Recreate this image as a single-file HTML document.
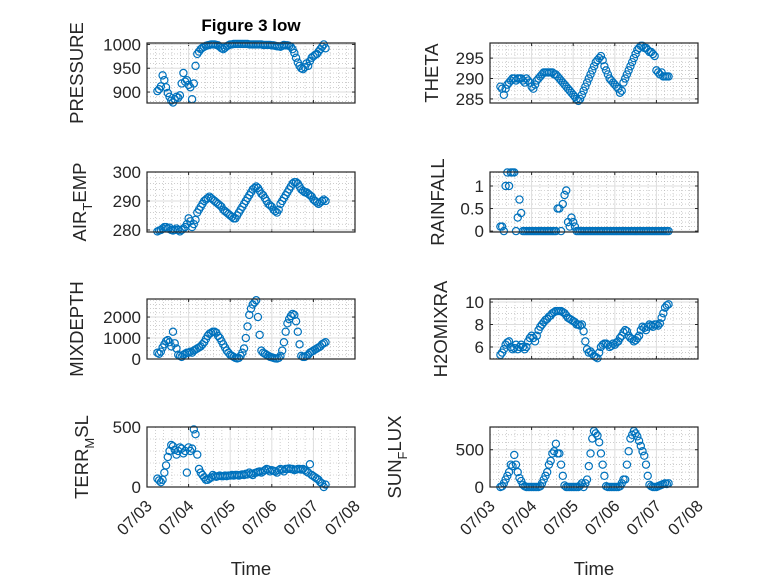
<!DOCTYPE html>
<html><head><meta charset="utf-8"><style>
html,body{margin:0;padding:0;background:#fff;}
svg{display:block;font-family:"Liberation Sans",sans-serif;}
</style></head><body>
<svg id="fig" width="778" height="583" viewBox="0 0 778 583" xmlns="http://www.w3.org/2000/svg">
<rect x="0" y="0" width="778" height="583" fill="#fff"/>
<text x="251" y="31" text-anchor="middle" font-size="17" font-weight="bold" fill="#000">Figure 3 low</text>
</svg>
<script>
const tickLabels = ["07/03","07/04","07/05","07/06","07/07","07/08"];
const pressure = [902,906,912,935,925,910, 898,890,882,878,885,890, 888,893,918,940,922,925, 915,910,885,918,955,980, 985,990,993,995,997,998, 999,1000,1000,1000,999,998, 995,992,990,993,996,998, 1000,1000,1001,1001,1001,1001, 1001,1001,1001,1001,1001,1000, 1000,1000,1000,1000,1000,1000, 1000,999,999,999,999,999, 998,998,997,996,996,995, 997,999,998,998,997,995, 990,982,972,962,955,950, 948,952,960,955,965,972, 975,978,980,985,990,995, 1000,992];
const theta = [288,287.5,286,287.5,288.5,289, 289.5,290,290,289.5,290,290, 290,289.5,289,290,289.5,289, 288,287.5,288.5,289.5,290,290.5, 291,291.5,291.5,291.5,291.5,291.5, 291.5,291,291,290.5,290,289.5, 289,288.5,288,287.5,287,286.5, 286,285.5,285,284.5,285,286, 287,288,289,290,291,292, 293,294,294.5,295,295.5,294.5, 293,292,291,290,289.5,289, 288.5,288,287.5,286.5,287,289, 290,291,292,293,294,295, 296,297,297.5,298,298,297.5, 297.5,297,296.5,296.5,296,295.5, 292,291.5,291,291.5,290.5,290.5, 290.5,290.5];
const airTemp = [279.5,279.8,280,280.5,281,281, 280.5,280.8,280,279.8,280,280.5, 280,279.5,280,280.5,281,282, 284,283,281,282,283.5,286, 287,288,289,290,290.5,291, 291.5,291,290.5,290,289.5,289, 288.5,288,287,286.5,286,285.5, 285,284.5,284,284,285,286, 287,288,289,290,291,292, 293,294,294.5,295,294.5,293.5, 292.5,292,291,290,289,288.5, 288,287,286.5,286,287,289, 290,291,292,293,294,295, 296,296.5,296.5,296,295,294, 293.5,293,293,292.5,292,291.5, 290.5,290,289.5,289,289.5,290, 290.5,290];
const rainfall = [0.1,0.1,0,1.0,1.3,1.0, 1.3,1.3,1.3,0,0.3,0.7, 0.4,0,0,0,0,0, 0,0,0,0,0,0, 0,0,0,0,0,0, 0,0,0,0.5,0.5,0, 0.6,0.8,0.9,0.2,0.1,0.3, 0.2,0.1,0,0,0,0, 0,0,0,0,0,0, 0,0,0,0,0,0, 0,0,0,0,0,0, 0,0,0,0,0,0, 0,0,0,0,0,0, 0,0,0,0,0,0, 0,0,0,0,0,0, 0,0,0,0,0,0, 0,0];
const mixDepth = [300,250,350,550,700,850, 900,800,600,1300,750,500, 200,150,100,200,250,300, 300,350,300,400,450,500, 550,600,700,800,950,1100, 1200,1250,1300,1300,1250,1100, 1000,850,700,550,400,300, 200,150,100,50,30,50, 150,300,500,1000,1550,2100, 2400,2600,2700,2800,2000,1150, 400,300,250,200,150,100, 80,50,30,20,50,150, 400,800,1300,1700,1900,2050, 2150,2100,1800,1300,700,150, 100,100,150,200,300,350, 400,450,500,550,600,700, 750,800];
const h2oMix = [5.3,5.5,5.8,6.2,6.4,6.5, 6.0,5.8,5.9,6.2,5.8,6.0, 6.2,6.0,5.8,6.0,6.5,6.8, 7.0,6.8,6.5,7.0,7.5,7.8, 8.0,8.2,8.4,8.5,8.7,8.8, 9.0,9.1,9.2,9.2,9.2,9.2, 9.1,9.0,8.8,8.6,8.5,8.4, 8.3,8.2,8.0,8.0,7.9,8.0, 7.4,6.5,5.8,5.5,5.6,5.4, 5.2,5.1,5.0,5.5,6.0,6.2, 6.3,6.3,6.2,6.0,6.1,6.3, 6.2,6.4,6.5,6.8,7.0,7.3, 7.5,7.4,7.0,6.8,6.7,6.5, 6.6,6.8,7.0,7.5,7.8,7.7, 7.5,7.8,8.0,7.9,7.8,8.0, 8.0,7.9,8.1,8.6,9.0,9.5, 9.7,9.8];
const terrMsl = [70,55,40,60,120,180, 250,300,350,340,310,270, 300,330,320,280,300,120, 330,300,320,480,440,270, 150,120,100,80,60,60, 70,80,100,90,85,90, 95,90,90,95,90,95, 95,100,95,100,100,95, 100,105,100,110,105,120, 110,100,115,120,125,130, 120,130,140,150,145,130, 140,135,130,120,140,150, 145,130,150,150,155,150, 150,140,145,150,150,145, 150,140,130,120,190,100, 90,80,70,60,40,30, 0,20];
const sunFlux = [0,10,50,100,150,200, 300,280,430,300,200,120, 80,30,10,0,0,0, 0,0,0,0,0,10, 50,100,150,200,300,350, 450,480,580,450,450,300, 150,20,0,0,0,0, 0,0,0,0,20,50, 0,50,100,280,450,650, 750,720,690,600,450,300, 150,10,0,0,0,0, 0,0,0,10,50,100, 100,300,480,650,700,750, 720,680,620,550,480,420, 300,150,30,10,0,0, 0,10,20,30,40,50, 40,50];
const startDay = 0.25;
const stepDay = 1/24;

const NS = "http://www.w3.org/2000/svg";
const svg = document.getElementById("fig");
function mk(tag, attrs, parent){
  const e = document.createElementNS(NS, tag);
  for (const k in attrs) e.setAttribute(k, attrs[k]);
  (parent||svg).appendChild(e);
  return e;
}
const panels = [
  {name:"pressure", data:pressure, x0:147, y0:43, ymin:877, ymax:1003, ticks:[900,950,1000], minor:10, label:["PRESSURE"], lx:77, col:0},
  {name:"theta", data:theta, x0:490, y0:43, ymin:284, ymax:298.7, ticks:[285,290,295], minor:1, label:["THETA"], lx:432, col:1},
  {name:"air-temp", data:airTemp, x0:147, y0:172, ymin:279.3, ymax:300, ticks:[280,290,300], minor:2, label:["AIR","T","EMP"], lx:80, col:0},
  {name:"rainfall", data:rainfall, x0:490, y0:172, ymin:-0.02, ymax:1.31, ticks:[0,0.5,1], minor:0.1, label:["RAINFALL"], lx:438, col:1},
  {name:"mixdepth", data:mixDepth, x0:147, y0:299, ymin:0, ymax:2860, ticks:[0,1000,2000], minor:200, label:["MIXDEPTH"], lx:77, col:0},
  {name:"h2omixra", data:h2oMix, x0:490, y0:299, ymin:4.93, ymax:10.27, ticks:[6,8,10], minor:0.5, label:["H2OMIXRA"], lx:441, col:1},
  {name:"terr-msl", data:terrMsl, x0:147, y0:427, ymin:0, ymax:500, ticks:[0,500], minor:100, label:["TERR","M","SL"], lx:82, col:0, bottom:true},
  {name:"sun-flux", data:sunFlux, x0:490, y0:427, ymin:0, ymax:805, ticks:[0,500], minor:100, label:["SUN","F","LUX"], lx:395, col:1, bottom:true}
];
const W = 208, H = 60, ND = 5;
panels.forEach(p => {
  const g = mk("g", {});
  
  
  const xs = d => p.x0 + d / ND * W;
  const ys = v => p.y0 + H - (v - p.ymin) / (p.ymax - p.ymin) * H;
  mk("rect", {x:p.x0, y:p.y0, width:W, height:H, fill:"#fff"}, g);
  for (let d = 0; d <= ND + 1e-9; d += 0.2) {
    mk("line", {x1:xs(d), x2:xs(d), y1:p.y0, y2:p.y0+H, stroke:"#b0b0b0", "stroke-width":0.6, "stroke-dasharray":"1 2"}, g);
  }
  for (let v = Math.ceil(p.ymin / p.minor) * p.minor; v <= p.ymax; v += p.minor) {
    mk("line", {x1:p.x0, x2:p.x0+W, y1:ys(v), y2:ys(v), stroke:"#b0b0b0", "stroke-width":0.6, "stroke-dasharray":"1 2"}, g);
  }
  for (let d = 0; d <= ND; d++) {
    mk("line", {x1:xs(d), x2:xs(d), y1:p.y0, y2:p.y0+H, stroke:"#dedede", "stroke-width":1}, g);
    mk("line", {x1:xs(d), x2:xs(d), y1:p.y0+H, y2:p.y0+H-3, stroke:"#262626", "stroke-width":1}, g);
    mk("line", {x1:xs(d), x2:xs(d), y1:p.y0, y2:p.y0+3, stroke:"#262626", "stroke-width":1}, g);
  }
  p.ticks.forEach(v => {
    mk("line", {x1:p.x0, x2:p.x0+W, y1:ys(v), y2:ys(v), stroke:"#dedede", "stroke-width":1}, g);
    mk("line", {x1:p.x0, x2:p.x0+3, y1:ys(v), y2:ys(v), stroke:"#262626", "stroke-width":1}, g);
    mk("line", {x1:p.x0+W, x2:p.x0+W-3, y1:ys(v), y2:ys(v), stroke:"#262626", "stroke-width":1}, g);
    const t = mk("text", {x:p.x0-6, y:ys(v)+6, "text-anchor":"end", "font-size":17, fill:"#262626"}, g);
    
    
    t.textContent = String(v);
  });
  const sg = mk("g", {fill:"none", stroke:"#0072BD", "stroke-width":1.2}, g);
  
  
  p.data.forEach((v, i) => {
    const c = mk("circle", {cx:xs(startDay + i*stepDay), cy:ys(v), r:3.6}, sg);
    
    
  });
  mk("rect", {x:p.x0, y:p.y0, width:W, height:H, fill:"none", stroke:"#262626", "stroke-width":1.2}, g);
  const cy = p.y0 + H/2;
  const lbl = mk("text", {x:0, y:0, "text-anchor":"middle", "font-size":18.5, fill:"#262626", transform:`translate(${p.lx+6},${cy}) rotate(-90)`}, g);
  
  
  if (p.label.length === 1) lbl.textContent = p.label[0];
  else {
    const a = mk("tspan", {}, lbl); a.textContent = p.label[0];
    const b = mk("tspan", {dy:6, "font-size":13}, lbl); b.textContent = p.label[1];
    const c = mk("tspan", {dy:-6}, lbl); c.textContent = p.label[2];
  }
  if (p.bottom) {
    tickLabels.forEach((s, d) => {
      const t = mk("text", {x:0, y:0, "text-anchor":"end", "font-size":16.5, fill:"#262626", transform:`translate(${xs(d)+6},${p.y0+H+20}) rotate(-45)`}, g);
      
      
      t.textContent = s;
    });
    const xl = mk("text", {x:p.x0 + W/2, y:575, "text-anchor":"middle", "font-size":18.5, fill:"#262626"}, g);
    
    
    xl.textContent = "Time";
  }
});
</script>
</body></html>
